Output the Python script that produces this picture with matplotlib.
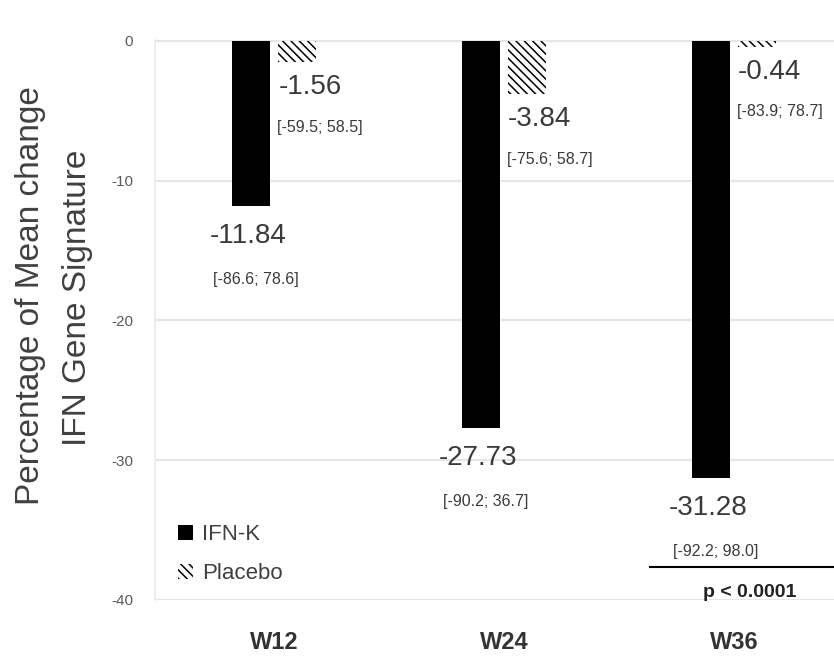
import numpy as np
import matplotlib
matplotlib.use("Agg")
import matplotlib.pyplot as plt
from matplotlib.patches import Patch

plt.rcParams['font.family'] = ['Liberation Sans', 'DejaVu Sans']
plt.rcParams['hatch.linewidth'] = 1.1

# data
weeks = ['W12', 'W24', 'W36']
ifnk_mean = [-11.84, -27.73, -31.28]
placebo_mean = [-1.56, -3.84, -0.44]
ifnk_ci = ['[-86.6; 78.6]', '[-90.2; 36.7]', '[-92.2; 98.0]']
placebo_ci = ['[-59.5; 58.5]', '[-75.6; 58.7]', '[-83.9; 78.7]']
yticks = [0, -10, -20, -30, -40]

txt = '#3a3a3a'
HATCH = '\\\\\\\\'

fig = plt.figure(figsize=(8.34, 6.64), dpi=100)
ax = fig.add_axes([0.186, 0.0964, 0.814, 0.8434])

x = np.arange(len(weeks))
w = 0.163
off = 0.1

ax.bar(x - off, ifnk_mean, w, color='black', zorder=3)
ax.bar(x + off, placebo_mean, w, color='white', edgecolor='black',
       hatch=HATCH, linewidth=0, zorder=3)

# value labels (offsets in pixels below bar end)
for i in range(len(weeks)):
    ax.annotate('%.2f' % ifnk_mean[i], (x[i] - off, ifnk_mean[i]),
                xytext=(-3, -30), textcoords='offset pixels', ha='center', va='center',
                fontsize=20, color=txt)
    ax.annotate(ifnk_ci[i], (x[i] - off, ifnk_mean[i]),
                xytext=(5, -73), textcoords='offset pixels', ha='center', va='center',
                fontsize=11.5, color=txt)
    ax.annotate('%.2f' % placebo_mean[i], (x[i] + off - w / 2, placebo_mean[i]),
                xytext=(0, -25), textcoords='offset pixels', ha='left', va='center',
                fontsize=20, color=txt)
    ax.annotate(placebo_ci[i], (x[i] + off - w / 2, placebo_mean[i]),
                xytext=(-1, -65), textcoords='offset pixels', ha='left', va='center',
                fontsize=11.5, color=txt)

# p-value line
ax.plot([1.635, 2.44], [-37.64, -37.64], color='black', lw=1.5, clip_on=False, zorder=4)
ax.text(2.07, -39.5, 'p < 0.0001', ha='center', va='center', fontsize=14,
        fontweight='bold', color='#222222')

ax.set_xlim(-0.517, 2.435)
ax.set_ylim(-40, 0.05)
ax.set_yticks(yticks)
ax.set_yticklabels([str(t) for t in yticks], fontsize=11, color='#595959')
ax.set_xticks(x)
ax.set_xticklabels(weeks, fontsize=17, fontweight='bold', color='#333333')
ax.tick_params(axis='both', length=0)
ax.tick_params(axis='x', pad=22)
ax.tick_params(axis='y', pad=16)
ax.yaxis.grid(True, color='#e6e6e6', lw=1.5, zorder=0)
for s in ['top', 'right', 'bottom']:
    ax.spines[s].set_visible(False)
ax.spines['left'].set_color('#eeeeee')
ax.spines['left'].set_linewidth(1.5)

# y label as two lines
fig.text(31 / 834, 1 - 296 / 664, 'Percentage of Mean change', rotation=90,
         ha='center', va='center', fontsize=24, color='#404040')
fig.text(78 / 834, 1 - 298 / 664, 'IFN Gene Signature', rotation=90,
         ha='center', va='center', fontsize=24, color='#404040')

handles = [Patch(facecolor='black', edgecolor='black', lw=0),
           Patch(facecolor='white', edgecolor='black', hatch=HATCH, lw=0)]
ax.legend(handles, ['IFN-K', 'Placebo'], loc='upper left', bbox_to_anchor=(0.034, 0.135),
          frameon=False, fontsize=16, handlelength=0.65, handleheight=0.65,
          handletextpad=0.42, labelspacing=0.8, borderpad=0, borderaxespad=0,
          labelcolor='#404040')

fig.savefig('out.png', dpi=100)
